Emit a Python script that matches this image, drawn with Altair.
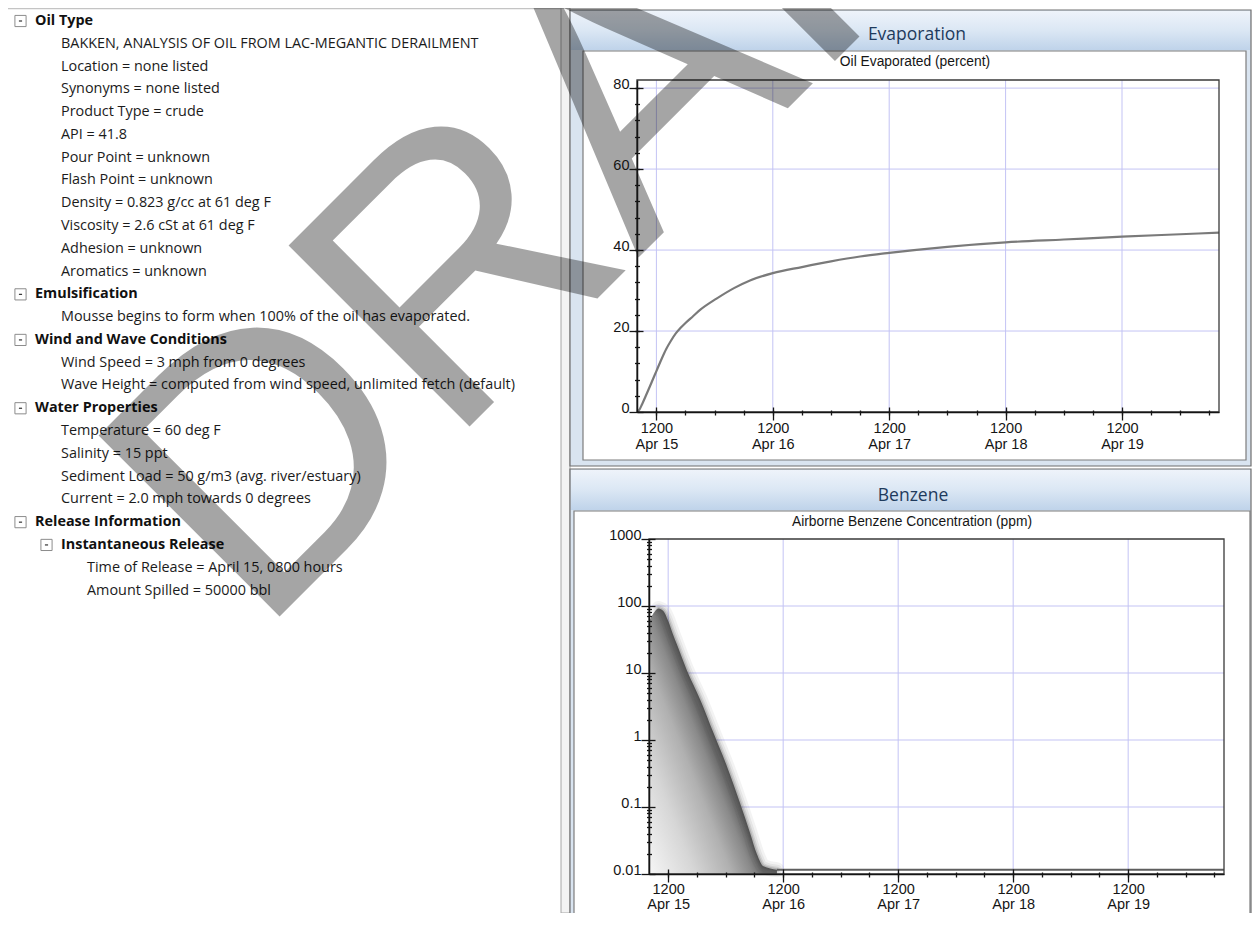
import altair as alt
import pandas as pd

# ---------------------------------------------------------------- data
TREE_TEXT = [
    "Oil Type",
    "BAKKEN, ANALYSIS OF OIL FROM LAC-MEGANTIC DERAILMENT",
    "Location = none listed",
    "Synonyms = none listed",
    "Product Type = crude",
    "API = 41.8",
    "Pour Point = unknown",
    "Flash Point = unknown",
    "Density = 0.823 g/cc at 61 deg F",
    "Viscosity = 2.6 cSt at 61 deg F",
    "Adhesion = unknown",
    "Aromatics = unknown",
    "Emulsification",
    "Mousse begins to form when 100% of the oil has evaporated.",
    "Wind and Wave Conditions",
    "Wind Speed = 3 mph from 0 degrees",
    "Wave Height = computed from wind speed, unlimited fetch (default)",
    "Water Properties",
    "Temperature = 60 deg F",
    "Salinity = 15 ppt",
    "Sediment Load = 50 g/m3 (avg. river/estuary)",
    "Current = 2.0 mph towards 0 degrees",
    "Release Information",
    "Instantaneous Release",
    "Time of Release = April 15, 0800 hours",
    "Amount Spilled = 50000 bbl",
]
TREE_DEPTH = [0, 1, 1, 1, 1, 1, 1, 1, 1, 1, 1, 1, 0, 1, 0, 1, 1, 0, 1, 1, 1, 1, 0, 1, 2, 2]
TREE_KIND = ["header", "item", "item", "item", "item", "item", "item", "item", "item",
             "item", "item", "item", "header", "item", "header", "item", "item", "header",
             "item", "item", "item", "item", "header", "header", "item", "item"]

RELEASE = pd.Timestamp("2013-04-15 08:00")
X_DOMAIN_HOURS = [0, 120]
X_MAJOR_HOURS = [4, 28, 52, 76, 100]          # 1200 on Apr 15 .. Apr 19
X_MINOR_HOURS = list(range(4, 119, 6))        # every six hours

EVAP_HOURS = [0, 0.5, 1, 2, 3, 4, 5, 6, 7, 8, 9, 10, 11.5, 13, 16.4, 20, 23.3, 28, 34, 40,
              46, 52, 64, 76, 88, 100, 112, 120]
EVAP_PCT = [0, 0.6, 1.8, 4.5, 7.3, 10.1, 12.9, 15.5, 17.6, 19.4, 20.8, 22.0, 23.6, 25.2,
            28.0, 30.6, 32.5, 34.3, 35.8, 37.2, 38.4, 39.3, 40.8, 41.9, 42.6, 43.3, 43.9, 44.3]
EVAP_Y_DOMAIN = [0, 82]
EVAP_Y_TICKS = [0, 20, 40, 60, 80]
EVAP_Y_GRID = [20, 40, 60, 80]
EVAP_Y_MINOR = list(range(4, 81, 4))

BENZ_HOURS = [0, 0.9, 2, 3, 4, 5, 5.8, 7.9, 10.7, 13.5, 16.3, 19, 21.1, 22.5, 23.9, 26.7]
BENZ_PPM = [58, 77, 92, 84, 60, 38, 27, 11, 4, 1.26, 0.4, 0.115, 0.041, 0.02, 0.013, 0.0116]
BENZ_TAIL_HOURS = [26.7, 120]
BENZ_TAIL_PPM = [0.0116, 0.0116]
BENZ_FLOOR = 0.01
BENZ_Y_DOMAIN = [0.01, 1000]
BENZ_Y_TICKS = [0.01, 0.1, 1, 10, 100, 1000]
BENZ_Y_GRID = [0.1, 1, 10, 100]
BENZ_Y_MINOR = [m * 10.0 ** e for e in range(-2, 3) for m in range(2, 10)]

WATERMARK = ["DRAFT"]

# ---------------------------------------------------------------- helpers
W, H = 1244, 905
TREE_FONT = "Open Sans"
CHART_FONT = "Liberation Sans"
TICK_SIZE = 14.5
EVAP_XR, EVAP_YR = [629, 1211], [404, 72]
BENZ_XR, BENZ_YR = [641, 1216], [866, 531]
GRID_COLOR = "#c3c3f4"
INK = "#151515"


def iso(h):
    return (RELEASE + pd.Timedelta(hours=h)).strftime("%Y-%m-%dT%H:%M:%S")


def dt(h):
    t = RELEASE + pd.Timedelta(hours=h)
    return alt.DateTime(year=t.year, month=t.month, date=t.day, hours=t.hour, minutes=t.minute)


def xs(rng):
    return alt.Scale(domain=[dt(X_DOMAIN_HOURS[0]), dt(X_DOMAIN_HOURS[1])], range=rng, nice=False)


def ys_lin(rng):
    return alt.Scale(domain=EVAP_Y_DOMAIN, range=rng, nice=False, zero=False)


def ys_log(rng):
    return alt.Scale(type="log", domain=BENZ_Y_DOMAIN, range=rng, nice=False)


def ax_x_main(off, pad, lh):
    return alt.Axis(orient="bottom", offset=off, values=[dt(h) for h in X_MAJOR_HOURS],
                    labelExpr="[timeFormat(datum.value, '%H%M'), timeFormat(datum.value, '%b %d')]",
                    labelFont=CHART_FONT, labelFontSize=TICK_SIZE, labelColor=INK, labelPadding=pad,
                    labelBaseline="top", labelLineHeight=lh, labelFlush=False, labelOverlap=False,
                    ticks=False, domain=True, domainColor=INK, domainWidth=1.5, grid=False,
                    title=None, zindex=1)


def ax_x_ticks(off, hours, size):
    return alt.Axis(orient="bottom", offset=off, values=[dt(h) for h in hours], labels=False,
                    ticks=True, tickSize=size, tickColor=INK, tickWidth=1.3, domain=False,
                    grid=False, title=None, zindex=1)


def ax_y_main(off, vals, **kw):
    return alt.Axis(orient="left", offset=off, values=vals, labelFont=CHART_FONT,
                    labelFontSize=TICK_SIZE, labelColor=INK, labelPadding=8, labelAlign="right",
                    labelBaseline="alphabetic", labelFlush=False, labelOverlap=False, ticks=False,
                    domain=True, domainColor=INK, domainWidth=1.5, grid=False, title=None,
                    zindex=1, **kw)


def ax_y_ticks(off, vals, size):
    return alt.Axis(orient="left", offset=off, values=vals, labels=False, ticks=True,
                    tickSize=size, tickColor=INK, tickWidth=1.3, domain=False, grid=False,
                    title=None, zindex=1)


one = pd.DataFrame({"k": [0]})


def vrect(x, x2, y, y2, **mk):
    return alt.Chart(one).mark_rect(**mk).encode(
        x=alt.value(x), x2=alt.value(x2), y=alt.value(y), y2=alt.value(y2))


def vrule(x, x2, y, y2, color, width=1):
    return alt.Chart(one).mark_rule(color=color, strokeWidth=width).encode(
        x=alt.value(x), x2=alt.value(x2), y=alt.value(y), y2=alt.value(y2))


def vtext(txt, x, y, **mk):
    return alt.Chart(one).mark_text(text=txt, **mk).encode(x=alt.value(x), y=alt.value(y))


def bar_gradient():
    return alt.Gradient(gradient="linear", x1=0, y1=0, x2=0, y2=1,
                        stops=[alt.GradientStop(offset=0, color="#eef3fa"),
                               alt.GradientStop(offset=0.5, color="#dbe7f4"),
                               alt.GradientStop(offset=1, color="#bfd3ea")])


# ---------------------------------------------------------------- tables
tree_df = pd.DataFrame({"row": list(range(len(TREE_TEXT))), "depth": TREE_DEPTH,
                        "text": TREE_TEXT, "kind": TREE_KIND})
evap_df = pd.DataFrame({"time": [iso(h) for h in EVAP_HOURS], "pct": EVAP_PCT})
evap_vgrid = pd.DataFrame({"time": [iso(h) for h in X_MAJOR_HOURS],
                           "lo": EVAP_Y_DOMAIN[0], "hi": EVAP_Y_DOMAIN[1]})
evap_hgrid = pd.DataFrame({"pct": EVAP_Y_GRID, "t0": iso(X_DOMAIN_HOURS[0]),
                           "t1": iso(X_DOMAIN_HOURS[1])})
evap_frame = pd.DataFrame({"t0": [iso(X_DOMAIN_HOURS[0])], "t1": [iso(X_DOMAIN_HOURS[1])],
                           "lo": [EVAP_Y_DOMAIN[0]], "hi": [EVAP_Y_DOMAIN[1]]})
benz_df = pd.DataFrame({"time": [iso(h) for h in BENZ_HOURS], "hours": BENZ_HOURS,
                        "ppm": BENZ_PPM, "floor": BENZ_FLOOR})
benz_tail = pd.DataFrame({"time": [iso(h) for h in BENZ_TAIL_HOURS], "ppm": BENZ_TAIL_PPM})
benz_vgrid = pd.DataFrame({"time": [iso(h) for h in X_MAJOR_HOURS],
                           "lo": BENZ_Y_DOMAIN[0], "hi": BENZ_Y_DOMAIN[1]})
benz_hgrid = pd.DataFrame({"ppm": BENZ_Y_GRID, "t0": iso(X_DOMAIN_HOURS[0]),
                           "t1": iso(X_DOMAIN_HOURS[1])})
benz_frame = pd.DataFrame({"t0": [iso(X_DOMAIN_HOURS[0])], "t1": [iso(X_DOMAIN_HOURS[1])],
                           "lo": [BENZ_Y_DOMAIN[0]], "hi": [BENZ_Y_DOMAIN[1]]})
wm_df = pd.DataFrame({"label": WATERMARK})

layers = []

# ---------------------------------------------------------------- window chrome
layers += [
    vrule(0, 553, 0.5, 0.5, "#c4c4c4", 1.5),
    vrect(553, 562, 0, H, fill="#f3f3f3", stroke="#a6a6a6", strokeWidth=1),
    # evaporation pane
    vrect(562, 1243, 2, 458, fill="#d9e4f0", stroke="#6e6e6e", strokeWidth=1.2),
    vrect(563, 1242, 3, 42, color=bar_gradient()),
    vrect(575, 1238, 43, 452, fill="white", stroke="#7d7d7d", strokeWidth=1.2),
    # benzene pane
    vrect(562, 1243, 461, H + 5, fill="#d9e4f0", stroke="#6e6e6e", strokeWidth=1.2),
    vrect(563, 1242, 462, 502, color=bar_gradient()),
    vrect(566, 1242, 503, H + 5, fill="white", stroke="#7d7d7d", strokeWidth=1.2),
]
layers += [
    vtext("Evaporation", 909, 27, font=TREE_FONT, fontSize=17.5, color="#1e3a5c"),
    vtext("Oil Evaporated (percent)", 907, 54, font=CHART_FONT, fontSize=13.8, color=INK),
    vtext("Benzene", 905, 488, font=TREE_FONT, fontSize=17.5, color="#1e3a5c"),
    vtext("Airborne Benzene Concentration (ppm)", 904, 514, font=CHART_FONT, fontSize=13.8,
          color=INK),
]

# ---------------------------------------------------------------- tree panel
tree_y = alt.Y("row:Q", scale=alt.Scale(domain=[0, len(TREE_TEXT) - 1], range=[13, 582.5]),
               axis=None)
box_x = alt.X("depth:Q", scale=alt.Scale(domain=[0, 2], range=[12.5, 64.5]), axis=None)
text_x = alt.X("depth:Q", scale=alt.Scale(domain=[0, 2], range=[27, 79]), axis=None)
tree_base = alt.Chart(tree_df)
layers += [
    tree_base.mark_point(shape="square", filled=True, fill="white", stroke="#8c8c8c",
                         strokeWidth=1, size=125, opacity=1)
    .transform_filter(alt.datum.kind == "header").encode(x=box_x, y=tree_y),
    tree_base.mark_point(shape="M-0.5,0H0.5", filled=False, stroke="#333333", strokeWidth=1.2,
                         size=40, opacity=1)
    .transform_filter(alt.datum.kind == "header").encode(x=box_x, y=tree_y),
    tree_base.mark_text(align="left", baseline="middle", font=TREE_FONT, fontSize=14.4,
                        color="#1b1b1b")
    .transform_filter(alt.datum.kind == "item").encode(x=text_x, y=tree_y, text="text:N"),
    tree_base.mark_text(align="left", baseline="middle", font=TREE_FONT, fontSize=14.4,
                        fontWeight="bold", color="#111111")
    .transform_filter(alt.datum.kind == "header").encode(x=text_x, y=tree_y, text="text:N"),
]

# ---------------------------------------------------------------- evaporation chart
layers += [
    alt.Chart(evap_vgrid).mark_rule(color=GRID_COLOR, strokeWidth=1).encode(
        x=alt.X("time:T", scale=xs(EVAP_XR), axis=None),
        y=alt.Y("lo:Q", scale=ys_lin(EVAP_YR), axis=None), y2="hi:Q"),
    alt.Chart(evap_hgrid).mark_rule(color=GRID_COLOR, strokeWidth=1).encode(
        x=alt.X("t0:T", scale=xs(EVAP_XR), axis=None), x2="t1:T",
        y=alt.Y("pct:Q", scale=ys_lin(EVAP_YR), axis=None)),
    alt.Chart(evap_df).mark_line(color="#7a7a7a", strokeWidth=2.2, interpolate="monotone").encode(
        x=alt.X("time:T", scale=xs(EVAP_XR), axis=ax_x_main(EVAP_YR[0] - H, 9, 16)),
        y=alt.Y("pct:Q", scale=ys_lin(EVAP_YR), axis=ax_y_main(-EVAP_XR[0], EVAP_Y_TICKS))),
    alt.Chart(evap_frame).mark_rect(fillOpacity=0, stroke="#3a3a3a", strokeWidth=1.3).encode(
        x=alt.X("t0:T", scale=xs(EVAP_XR), axis=None), x2="t1:T",
        y=alt.Y("lo:Q", scale=ys_lin(EVAP_YR), axis=None), y2="hi:Q"),
    alt.Chart(evap_df).mark_point(opacity=0, size=1).encode(
        x=alt.X("time:T", scale=xs(EVAP_XR), axis=ax_x_ticks(EVAP_YR[0] - 5 - H, X_MAJOR_HOURS, 13)),
        y=alt.Y("pct:Q", scale=ys_lin(EVAP_YR), axis=ax_y_ticks(-(EVAP_XR[0] + 6), EVAP_Y_TICKS, 14))),
    alt.Chart(evap_df).mark_point(opacity=0, size=1).encode(
        x=alt.X("time:T", scale=xs(EVAP_XR), axis=ax_x_ticks(EVAP_YR[0] - 2 - H, X_MINOR_HOURS, 5)),
        y=alt.Y("pct:Q", scale=ys_lin(EVAP_YR), axis=ax_y_ticks(-(EVAP_XR[0] + 2.5), EVAP_Y_MINOR, 5))),
]

# ---------------------------------------------------------------- benzene chart
benz_fill = alt.Gradient(
    gradient="linear", x1=0, y1=1, x2=0.536, y2=0.558,
    stops=[alt.GradientStop(offset=0, color="#f6f6f6"),
           alt.GradientStop(offset=0.4, color="#d6d6d6"),
           alt.GradientStop(offset=0.72, color="#b0b0b0"),
           alt.GradientStop(offset=0.9, color="#8a8a8a"),
           alt.GradientStop(offset=1, color="#666666")])
layers += [
    alt.Chart(benz_vgrid).mark_rule(color=GRID_COLOR, strokeWidth=1).encode(
        x=alt.X("time:T", scale=xs(BENZ_XR), axis=None),
        y=alt.Y("lo:Q", scale=ys_log(BENZ_YR), axis=None), y2="hi:Q"),
    alt.Chart(benz_hgrid).mark_rule(color=GRID_COLOR, strokeWidth=1).encode(
        x=alt.X("t0:T", scale=xs(BENZ_XR), axis=None), x2="t1:T",
        y=alt.Y("ppm:Q", scale=ys_log(BENZ_YR), axis=None)),
    alt.Chart(benz_df).mark_area(color=benz_fill, interpolate="monotone").encode(
        x=alt.X("time:T", scale=xs(BENZ_XR), axis=ax_x_main(BENZ_YR[0] - H, 8, 15)),
        y=alt.Y("ppm:Q", scale=ys_log(BENZ_YR),
                axis=ax_y_main(-BENZ_XR[0], BENZ_Y_TICKS, format="~g")),
        y2="floor:Q"),
]
for w, o in [(15, 0.06), (10, 0.08), (6, 0.12), (3, 0.18)]:
    layers.append(
        alt.Chart(benz_df).transform_filter(alt.datum.hours >= 2)
        .mark_line(color="#3a3a3a", strokeWidth=w, opacity=o, interpolate="monotone",
                   strokeCap="round").encode(
            x=alt.X("time:T", scale=xs(BENZ_XR), axis=None),
            y=alt.Y("ppm:Q", scale=ys_log(BENZ_YR), axis=None)))
layers += [
    alt.Chart(benz_tail).mark_line(color="#5e5e5e", strokeWidth=2).encode(
        x=alt.X("time:T", scale=xs(BENZ_XR), axis=None),
        y=alt.Y("ppm:Q", scale=ys_log(BENZ_YR), axis=None)),
    alt.Chart(benz_frame).mark_rect(fillOpacity=0, stroke="#3a3a3a", strokeWidth=1.3).encode(
        x=alt.X("t0:T", scale=xs(BENZ_XR), axis=None), x2="t1:T",
        y=alt.Y("lo:Q", scale=ys_log(BENZ_YR), axis=None), y2="hi:Q"),
    alt.Chart(benz_df).mark_point(opacity=0, size=1).encode(
        x=alt.X("time:T", scale=xs(BENZ_XR), axis=ax_x_ticks(BENZ_YR[0] - 5 - H, X_MAJOR_HOURS, 13)),
        y=alt.Y("ppm:Q", scale=ys_log(BENZ_YR), axis=ax_y_ticks(-(BENZ_XR[0] + 6), BENZ_Y_TICKS, 14))),
    alt.Chart(benz_df).mark_point(opacity=0, size=1).encode(
        x=alt.X("time:T", scale=xs(BENZ_XR), axis=ax_x_ticks(BENZ_YR[0] - 2 - H, X_MINOR_HOURS, 5)),
        y=alt.Y("ppm:Q", scale=ys_log(BENZ_YR), axis=ax_y_ticks(-(BENZ_XR[0] + 2.5), BENZ_Y_MINOR, 5))),
]

# ---------------------------------------------------------------- watermark
layers.append(
    alt.Chart(wm_df).mark_text(font="Liberation Sans", fontSize=372, angle=315, align="left",
                               baseline="alphabetic", color="#000000", opacity=0.35)
    .encode(x=alt.value(250), y=alt.value(630), text="label:N"))

chart = (
    alt.layer(*layers)
    .resolve_scale(x="independent", y="independent")
    .properties(width=W, height=H, padding=0, background="white",
                autosize=alt.AutoSizeParams(type="none"))
    .configure_view(stroke=None)
)

chart.save("out.html", embed_options={"renderer": "svg", "actions": False})
